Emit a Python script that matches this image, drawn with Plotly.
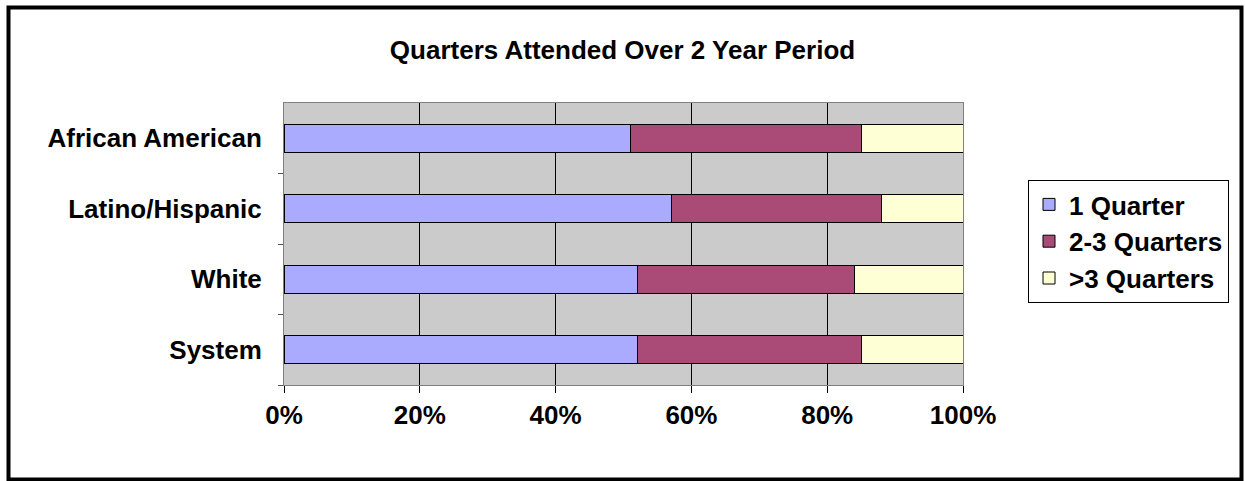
import plotly.graph_objects as go

categories = ["African American", "Latino/Hispanic", "White", "System"]
series_names = ["1 Quarter", "2-3 Quarters", ">3 Quarters"]
one_quarter = [51, 57, 52, 52]
two_three_quarters = [34, 31, 32, 33]
over_three_quarters = [15, 12, 16, 15]
x_ticks = [0, 20, 40, 60, 80, 100]

colors = ["#AAAAFF", "#AA4A76", "#FFFFD5"]
values = [one_quarter, two_three_quarters, over_three_quarters]

W, H = 1245, 481
ml, mr, mt, mb = 284, 282, 103, 96
pw, ph = W - ml - mr, H - mt - mb

fig = go.Figure()
for name, vals, col in zip(series_names, values, colors):
    fig.add_trace(go.Bar(
        y=categories, x=vals, name=f"<b>{name}</b>", orientation="h",
        marker=dict(color=col, line=dict(color="#000000", width=1)),
        legendgroup=name,
    ))

font_family = "Liberation Sans, Arial, sans-serif"
FS = 26

fig.update_layout(
    width=W, height=H,
    margin=dict(l=ml, r=mr, t=mt, b=mb),
    barmode="stack", bargap=0.6,
    paper_bgcolor="white", plot_bgcolor="#CBCBCB",
    font=dict(family=font_family, size=FS, color="#000000"),
    title=dict(text="<b>Quarters Attended Over 2 Year Period</b>",
               x=0.5, xanchor="center", y=1 - 50 / H, yanchor="middle",
               font=dict(size=FS)),
    showlegend=True,
    legend=dict(
        x=(1028 - ml) / pw, xanchor="left",
        y=(H - mb - 180) / ph, yanchor="top",
        bordercolor="#000000", borderwidth=1, bgcolor="white",
        traceorder="grouped", tracegroupgap=0,
        font=dict(size=FS),
        itemwidth=30,
    ),
    xaxis=dict(
        range=[0, 100], tickvals=x_ticks,
        ticktext=[f"<b>{v}%</b>" for v in x_ticks],
        showgrid=True, gridcolor="#000000", gridwidth=1,
        ticks="outside", ticklen=7, tickcolor="#000000",
        showline=True, linecolor="#808080", linewidth=1, mirror=True,
        zeroline=False, ticklabelstandoff=0,
        tickfont=dict(size=FS),
    ),
    yaxis=dict(
        categoryorder="array", categoryarray=categories[::-1],
        tickvals=categories, ticktext=[f"<b>{c}</b>" for c in categories],
        tickson="boundaries", ticks="outside", ticklen=5, tickcolor="#555555",
        showline=True, linecolor="#808080", linewidth=1, mirror=True,
        showgrid=False, ticklabelstandoff=16,
        tickfont=dict(size=FS),
    ),
)

# outer frame around whole chart
fig.add_shape(
    type="rect", xref="paper", yref="paper",
    x0=(8.5 - ml) / pw, x1=(1241.5 - ml) / pw,
    y0=(H - mb - 479.5) / ph, y1=(H - mb - 7.5) / ph,
    line=dict(color="#000000", width=4), fillcolor="rgba(0,0,0,0)",
    layer="above",
)

fig.write_html(
    "out.html",
    config={"displayModeBar": False},
    post_script="document.body.style.margin='0';document.body.style.overflow='hidden';",
)
